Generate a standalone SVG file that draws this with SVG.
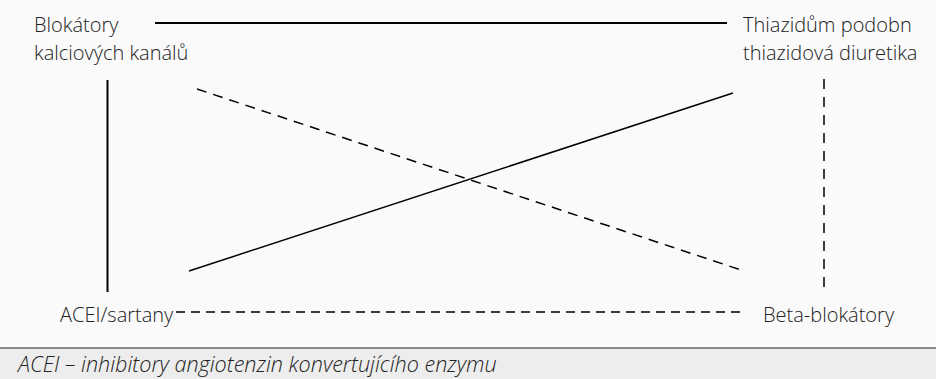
<svg xmlns="http://www.w3.org/2000/svg" width="936" height="379" viewBox="0 0 936 379">
<defs>
<style>
.lbl{font-family:"Open Sans","Noto Sans",sans-serif;font-size:20px;font-weight:300;fill:#222}
.foot{font-family:"Open Sans","Noto Sans",sans-serif;font-size:21.6px;font-weight:300;font-style:italic;fill:#222}
.s{stroke:#000;stroke-width:2;fill:none}
.d{stroke:#000;stroke-width:1.5;fill:none}
</style>
<clipPath id="clipR"><rect x="0" y="0" width="918" height="379"/></clipPath>
</defs>
<rect x="0" y="0" width="936" height="379" fill="#fafafa"/>
<rect x="0" y="348" width="936" height="31" fill="#ededed"/>
<line x1="0" y1="348" x2="936" y2="348" stroke="#666" stroke-width="1.5"/>
<g id="connectors">
<line class="s" x1="155" y1="23" x2="727" y2="23"/>
<line class="s" x1="107.5" y1="80" x2="107.5" y2="292"/>
<line class="s" style="stroke-width:1.5" x1="189" y1="271" x2="733" y2="93"/>
<line class="d" stroke-dasharray="10 7" x1="197" y1="89" x2="744" y2="271"/>
<line class="d" stroke-dasharray="10 8" x1="824" y1="79" x2="824" y2="292"/>
<line class="d" stroke-dasharray="9 6" x1="176" y1="312" x2="744" y2="312"/>
</g>
<g id="node-bkk">
<text class="lbl" x="34" y="32">Blokátory</text>
<text class="lbl" x="34" y="60">kalciových kanálů</text>
</g>
<g id="node-thiazid" clip-path="url(#clipR)">
<text class="lbl" x="743" y="32">Thiazidům podobn</text>
<text class="lbl" x="743" y="60">thiazidová diuretika</text>
</g>
<g id="node-acei">
<text class="lbl" x="60" y="322">ACEI/sartany</text>
</g>
<g id="node-beta">
<text class="lbl" x="763" y="322">Beta-blokátory</text>
</g>
<g id="footnote">
<text class="foot" x="18" y="372">ACEI – inhibitory angiotenzin konvertujícího enzymu</text>
</g>
</svg>
